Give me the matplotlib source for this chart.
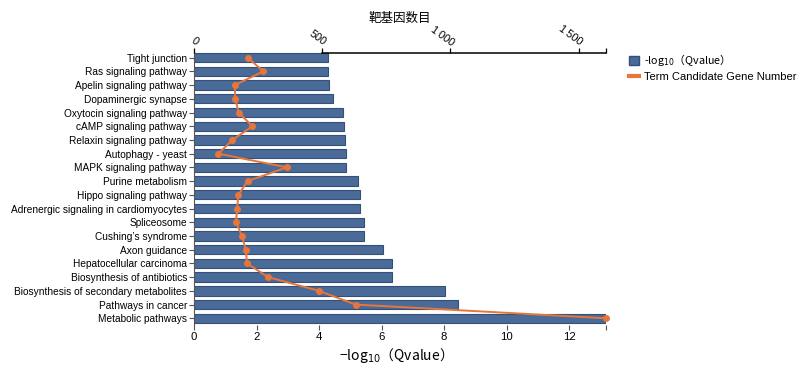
import matplotlib
matplotlib.use("Agg")
import matplotlib.pyplot as plt
from matplotlib.patches import Patch
from matplotlib.lines import Line2D
import numpy as np

plt.rcParams['font.family'] = ['Liberation Sans', 'Noto Sans CJK SC', 'DejaVu Sans']

# data, top row first
terms = [
    "Tight junction", "Ras signaling pathway", "Apelin signaling pathway",
    "Dopaminergic synapse", "Oxytocin signaling pathway", "cAMP signaling pathway",
    "Relaxin signaling pathway", "Autophagy - yeast", "MAPK signaling pathway",
    "Purine metabolism", "Hippo signaling pathway",
    "Adrenergic signaling in cardiomyocytes", "Spliceosome", "Cushing\u2019s syndrome",
    "Axon guidance", "Hepatocellular carcinoma", "Biosynthesis of antibiotics",
    "Biosynthesis of secondary metabolites", "Pathways in cancer", "Metabolic pathways",
]
neg_log_q = [4.28, 4.28, 4.33, 4.45, 4.76, 4.79, 4.84, 4.85, 4.85, 5.26,
             5.32, 5.31, 5.43, 5.45, 6.04, 6.34, 6.35, 8.04, 8.46, 13.18]
gene_num = [209, 271, 159, 161, 174, 228, 150, 95, 362, 209,
            173, 168, 164, 187, 202, 207, 289, 487, 630, 1607]

top_ticks = [0, 500, 1000, 1500]
top_labels = ["0", "500", "1\u2009000", "1\u2009500"]
bottom_ticks = [0, 2, 4, 6, 8, 10, 12]

BAR = '#4a6b97'
BAR_EDGE = '#34507a'
LINE = '#e8763a'
CJK = ['Noto Sans CJK SC', 'DejaVu Sans']

fig = plt.figure(figsize=(8, 3.71), dpi=100)
ax = fig.add_axes([0.2425, 0.124, 0.515, 0.741])

y = np.arange(len(terms))
ax.barh(y, neg_log_q, height=0.68, color=BAR, edgecolor=BAR_EDGE, linewidth=0.8, zorder=2)
ax.set_ylim(len(terms) - 1 + 0.49, -0.55)
ax.set_xlim(0, max(neg_log_q))
ax.set_yticks(y)
ax.set_yticklabels(terms, fontsize=7.3)
ax.set_xticks(bottom_ticks + [max(neg_log_q)])
ax.set_xticklabels([str(t) for t in bottom_ticks] + [""], fontsize=8.2)
ax.tick_params(axis='both', length=3.5, width=0.8, color='#555555', pad=1.5)
for s in ['top', 'right', 'bottom']:
    ax.spines[s].set_visible(False)
ax.spines['left'].set_color('#555555')
ax.spines['left'].set_linewidth(0.8)

ax2 = ax.twiny()
for s in ['left', 'right', 'bottom']:
    ax2.spines[s].set_visible(False)
# set position first, it resets the tick setup
ax2.spines['top'].set_position(('outward', -2.2))
ax2.plot(gene_num, y, color=LINE, lw=1.4, marker='o', ms=4, clip_on=False, zorder=3)
ax2.set_xlim(0, max(gene_num))
ax2.set_ylim(ax.get_ylim())
ax2.spines['top'].set_bounds(500, max(gene_num))
ax2.spines['top'].set_linewidth(1.1)
ax2.set_xticks(top_ticks + [max(gene_num)])
ax2.set_xticklabels(top_labels + [""], fontsize=7.8)
ax2.tick_params(axis='x', length=3.5, width=0.9, pad=0.5)
for lab in ax2.get_xticklabels():
    lab.set_rotation(-36)
    lab.set_ha('right')
    lab.set_va('bottom')
    lab.set_rotation_mode('anchor')

fig.text(0.5, 0.951, '靶基因数目', ha='center', va='center', fontsize=9, family=CJK)
fig.text(0.49, 0.043, '\u2212log$_{10}$（Qvalue）', ha='center', va='center', fontsize=10, family=CJK)

handles = [Patch(facecolor=BAR, edgecolor=BAR_EDGE),
           Line2D([0], [0], color=LINE, lw=3)]
leg = fig.legend(handles, ['-log$_{10}$（Qvalue）', 'Term Candidate Gene Number'],
                 loc='upper left', bbox_to_anchor=(0.78, 0.875), frameon=False,
                 handlelength=0.9, handleheight=0.9, handletextpad=0.4,
                 labelspacing=0.35, borderpad=0, prop={'family': CJK, 'size': 7.8})
leg.get_texts()[1].set_family(['Liberation Sans', 'DejaVu Sans'])
leg.get_texts()[1].set_fontsize(8.0)

fig.savefig('out.png', dpi=100)
